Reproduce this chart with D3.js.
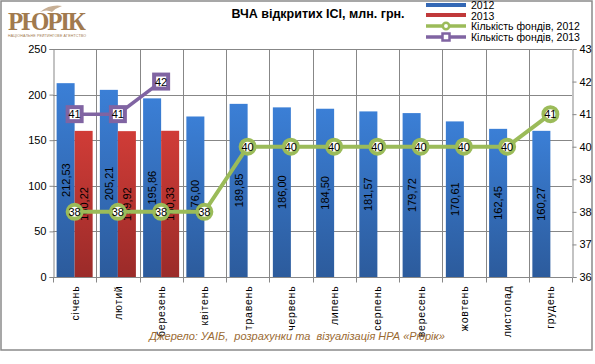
<!DOCTYPE html>
<html>
<head>
<meta charset="utf-8">
<script src="https://cdn.jsdelivr.net/npm/d3@7"></script>
<style>
  body { margin: 0; background: #fff; }
  svg { display: block; font-family: "Liberation Sans", Arial, sans-serif; }
</style>
</head>
<body>
<div id="chart"></div>
<script>
// data
const months = ["січень", "лютий", "березень", "квітень", "травень", "червень",
  "липень", "серпень", "вересень", "жовтень", "листопад", "грудень"];
const vca2012 = [212.53, 205.21, 195.86, 176.00, 189.85, 186.00, 184.50, 181.57, 179.72, 170.61, 162.45, 160.27];
const vca2013 = [160.22, 159.92, 160.33];
const funds2012 = [38, 38, 38, 38, 40, 40, 40, 40, 40, 40, 40, 41];
const funds2013 = [41, 41, 42];
const leftTicks = [0, 50, 100, 150, 200, 250];
const rightTicks = [36, 37, 38, 39, 40, 41, 42, 43];

const W = 595, H = 364;
const plot = { left: 53, right: 572, top: 49, bottom: 277 };

const svg = d3.select("#chart").append("svg")
  .attr("width", W).attr("height", H);

const defs = svg.append("defs");
function grad(id, top, bottom) {
  const g = defs.append("linearGradient").attr("id", id)
    .attr("x1", 0).attr("y1", 0).attr("x2", 0).attr("y2", 1);
  g.append("stop").attr("offset", "0%").attr("stop-color", top);
  g.append("stop").attr("offset", "100%").attr("stop-color", bottom);
}
grad("gBlue", "#3b7fd6", "#2c5b9c");
grad("gRed", "#d03c37", "#9b2b29");

// frame
svg.append("rect")
  .attr("x", 1).attr("y", 1).attr("width", 591).attr("height", 349)
  .attr("fill", "#fff").attr("stroke", "#8a8a8a").attr("stroke-width", 1.5);

// scales
const x = d3.scaleBand().domain(months).range([plot.left, plot.right]).padding(0);
const x1 = d3.scaleBand().domain(["2012", "2013"]).range([0, x.bandwidth()])
  .paddingInner(0).paddingOuter(0.2);
const y = d3.scaleLinear().domain([0, 250]).range([plot.bottom, plot.top]);
const y2 = d3.scaleLinear().domain([36, 43]).range([plot.bottom, plot.top]);

// grid
const grid = svg.append("g").attr("stroke", "#878787").attr("stroke-width", 1);
leftTicks.forEach(t => {
  grid.append("line")
    .attr("x1", plot.left).attr("x2", plot.right)
    .attr("y1", Math.round(y(t)) + 0.5).attr("y2", Math.round(y(t)) + 0.5);
});
months.forEach((m, i) => {
  if (i === 0) return;
  const gx = Math.round(x(m)) + 0.5;
  grid.append("line").attr("x1", gx).attr("x2", gx)
    .attr("y1", plot.top).attr("y2", plot.bottom);
});

// bars
const bars = svg.append("g");
vca2012.forEach((v, i) => {
  bars.append("rect")
    .attr("x", x(months[i]) + x1("2012")).attr("width", x1.bandwidth())
    .attr("y", y(v)).attr("height", y(0) - y(v))
    .attr("fill", "url(#gBlue)");
});
vca2013.forEach((v, i) => {
  bars.append("rect")
    .attr("x", x(months[i]) + x1("2013")).attr("width", x1.bandwidth())
    .attr("y", y(v)).attr("height", y(0) - y(v))
    .attr("fill", "url(#gRed)");
});

// axes
const axisCol = "#878787";
const axL = svg.append("g")
  .attr("transform", `translate(${plot.left + 0.5},0)`)
  .call(d3.axisLeft(y).tickValues(leftTicks).tickSize(4).tickPadding(3));
const axR = svg.append("g")
  .attr("transform", `translate(${plot.right + 0.5},0)`)
  .call(d3.axisRight(y2).tickValues(rightTicks).tickFormat(d3.format("d"))
    .tickSize(4).tickPadding(3));
[axL, axR].forEach(a => {
  a.select(".domain").attr("stroke", axisCol);
  a.selectAll(".tick line").attr("stroke", axisCol);
  a.selectAll("text").attr("font-size", 11).attr("fill", "#000")
    .attr("font-family", "Liberation Sans, Arial, sans-serif");
});

const axB = svg.append("g").attr("transform", `translate(0,${plot.bottom + 0.5})`);
axB.append("line").attr("x1", plot.left).attr("x2", plot.right)
  .attr("stroke", axisCol);
months.concat(["end"]).forEach((m, i) => {
  const tx = Math.round(plot.left + i * x.step()) + 0.5;
  axB.append("line").attr("x1", tx).attr("x2", tx).attr("y1", 0).attr("y2", 5)
    .attr("stroke", axisCol);
});
// month labels, rotated to read bottom-to-top
months.forEach(m => {
  const cx = x(m) + x.bandwidth() / 2 + 4;
  axB.append("text")
    .attr("x", cx).attr("y", 8)
    .attr("transform", `rotate(-90 ${cx} 8)`)
    .attr("text-anchor", "end")
    .attr("font-size", 10.5)
    .attr("letter-spacing", "0.8")
    .text(m);
});

// value labels in bars
const vl = svg.append("g").attr("font-size", 11).attr("fill", "#000");
vca2012.forEach((v, i) => {
  const cx = x(months[i]) + x1("2012") + x1.bandwidth() / 2;
  const cy = (y(v) + y(0)) / 2;
  vl.append("text")
    .attr("transform", `translate(${cx + 4},${cy}) rotate(-90)`)
    .attr("text-anchor", "middle")
    .text(v.toFixed(2).replace(".", ","));
});
vca2013.forEach((v, i) => {
  const cx = x(months[i]) + x1("2013") + x1.bandwidth() / 2;
  const cy = (y(v) + y(0)) / 2;
  vl.append("text")
    .attr("transform", `translate(${cx + 4},${cy}) rotate(-90)`)
    .attr("text-anchor", "middle")
    .text(v.toFixed(2).replace(".", ","));
});

// lines
const cxOf = i => x(months[i]) + x.bandwidth() / 2;
const line = d3.line().x((d, i) => cxOf(i)).y(d => y2(d));

svg.append("path").datum(funds2012).attr("d", line)
  .attr("fill", "none").attr("stroke", "#9bbb59").attr("stroke-width", 4);
svg.append("path").datum(funds2013).attr("d", line)
  .attr("fill", "none").attr("stroke", "#8064a2").attr("stroke-width", 3.5);

const m12 = svg.append("g");
funds2012.forEach((v, i) => {
  m12.append("circle").attr("cx", cxOf(i)).attr("cy", y2(v)).attr("r", 7)
    .attr("fill", "#fff").attr("stroke", "#9bbb59").attr("stroke-width", 4);
  m12.append("text").attr("x", cxOf(i)).attr("y", y2(v) + 4)
    .attr("text-anchor", "middle").attr("font-size", 11).text(v);
});
const m13 = svg.append("g");
funds2013.forEach((v, i) => {
  m13.append("rect").attr("x", cxOf(i) - 7).attr("y", y2(v) - 7)
    .attr("width", 14).attr("height", 14)
    .attr("fill", "#fff").attr("stroke", "#8064a2").attr("stroke-width", 4);
  m13.append("text").attr("x", cxOf(i)).attr("y", y2(v) + 4)
    .attr("text-anchor", "middle").attr("font-size", 11).text(v);
});

// title
svg.append("text").attr("x", 318).attr("y", 18)
  .attr("text-anchor", "middle").attr("font-size", 12.5).attr("font-weight", "bold")
  .text("ВЧА відкритих ІСІ, млн. грн.");

// legend
const lg = svg.append("g").attr("font-size", 10.5);
const lx = 426, lw = 40;
lg.append("rect").attr("x", lx).attr("y", 3).attr("width", lw).attr("height", 4).attr("fill", "#3468b5");
lg.append("text").attr("x", 471).attr("y", 9).text("2012");
lg.append("rect").attr("x", lx).attr("y", 13).attr("width", lw).attr("height", 4).attr("fill", "#c0393a");
lg.append("text").attr("x", 471).attr("y", 19.5).text("2013");
lg.append("line").attr("x1", lx).attr("x2", lx + lw).attr("y1", 26).attr("y2", 26)
  .attr("stroke", "#9bbb59").attr("stroke-width", 3.5);
lg.append("circle").attr("cx", lx + lw / 2).attr("cy", 26).attr("r", 3.2)
  .attr("fill", "#fff").attr("stroke", "#9bbb59").attr("stroke-width", 2.5);
lg.append("text").attr("x", 471).attr("y", 30).text("Кількість фондів, 2012");
lg.append("line").attr("x1", lx).attr("x2", lx + lw).attr("y1", 37).attr("y2", 37)
  .attr("stroke", "#8064a2").attr("stroke-width", 3.5);
lg.append("rect").attr("x", lx + lw / 2 - 3.5).attr("y", 33.5).attr("width", 7).attr("height", 7)
  .attr("fill", "#fff").attr("stroke", "#8064a2").attr("stroke-width", 2.5);
lg.append("text").attr("x", 471).attr("y", 41).text("Кількість фондів, 2013");

// logo
const logo = svg.append("g").attr("fill", "#a17a4e");
logo.append("path")
  .attr("d", "M40,12 Q50,4 62,6 Q56,8 52,12 Q47,9 40,12 Z")
  .attr("opacity", 0.6);
logo.append("text").attr("x", 8).attr("y", 30)
  .attr("font-family", "Liberation Serif, serif").attr("font-weight", "bold")
  .attr("font-size", 25).attr("textLength", 78).text("РЮРІК");
logo.append("text").attr("x", 8).attr("y", 37)
  .attr("font-size", 3.6).attr("textLength", 78).text("НАЦІОНАЛЬНЕ РЕЙТИНГОВЕ АГЕНТСТВО");

// source
svg.append("text").attr("x", 297).attr("y", 340)
  .attr("text-anchor", "middle").attr("font-size", 11).attr("font-style", "italic")
  .attr("fill", "#9a6a32")
  .attr("xml:space", "preserve")
  .text("Джерело: УАІБ,  розрахунки та  візуалізація НРА «Рюрік»");
</script>
</body>
</html>
